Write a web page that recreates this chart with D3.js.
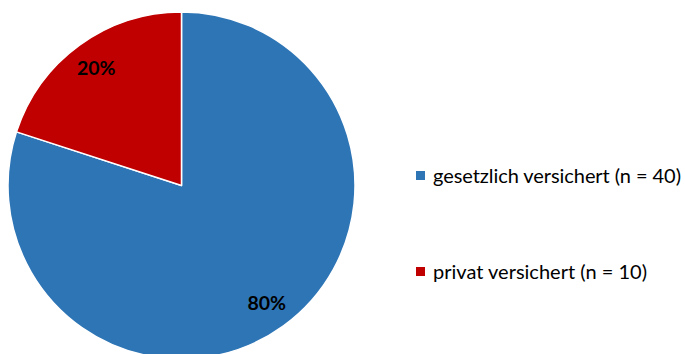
<!DOCTYPE html>
<html>
<head>
<meta charset="utf-8">
<script src="https://cdn.jsdelivr.net/npm/d3@7"></script>
<style>
  html, body { margin: 0; padding: 0; background: #fff; }
  svg { display: block; }
</style>
</head>
<body>
<svg id="chart" width="685" height="354"></svg>
<script>
// Versicherungsstatus der Befragten
const categories = ["gesetzlich versichert", "privat versichert"];
const counts = [40, 10];
const colors = ["#2E75B6", "#C00000"];

const svg = d3.select("#chart");
const cx = 181.5, cy = 185.5, radius = 173.5;
const total = d3.sum(counts);

const pie = d3.pie().sort(null).value(d => d.value);
const arcs = pie(categories.map((c, i) => ({ name: c, value: counts[i], color: colors[i] })));

const arc = d3.arc().innerRadius(0).outerRadius(radius);
const labelArc = d3.arc().innerRadius(145).outerRadius(145);

const g = svg.append("g").attr("transform", `translate(${cx},${cy})`);

g.selectAll("path")
  .data(arcs)
  .join("path")
  .attr("d", arc)
  .attr("fill", d => d.data.color)
  .attr("stroke", "#fff")
  .attr("stroke-width", 1.5)
  .attr("stroke-linejoin", "round");

g.selectAll("text.pct")
  .data(arcs)
  .join("text")
  .attr("class", "pct")
  .attr("transform", d => `translate(${labelArc.centroid(d)})`)
  .attr("text-anchor", "middle")
  .attr("dy", "0.35em")
  .attr("font-family", "Lato, 'Open Sans', sans-serif")
  .attr("font-weight", "bold")
  .attr("font-size", 19.5)
  .attr("fill", "#000")
  .text(d => d3.format(".0%")(d.data.value / total));

// Legende
const legend = svg.append("g").attr("transform", "translate(416,171)");
const items = legend.selectAll("g")
  .data(arcs)
  .join("g")
  .attr("transform", (d, i) => `translate(0,${i * 96})`);

items.append("rect")
  .attr("width", 9)
  .attr("height", 9)
  .attr("fill", d => d.data.color);

items.append("text")
  .attr("x", 17)
  .attr("y", 12)
  .attr("font-family", "Lato, 'Open Sans', sans-serif")
  .attr("font-size", 20)
  .attr("fill", "#000")
  .text(d => `${d.data.name} (n = ${d.data.value})`)
  .each(function (d, i) {
    // gleichmäßig gesperrte Schrift auf feste Breite
    d3.select(this)
      .attr("textLength", [248, 214][i])
      .attr("lengthAdjust", "spacing");
  });
</script>
</body>
</html>
